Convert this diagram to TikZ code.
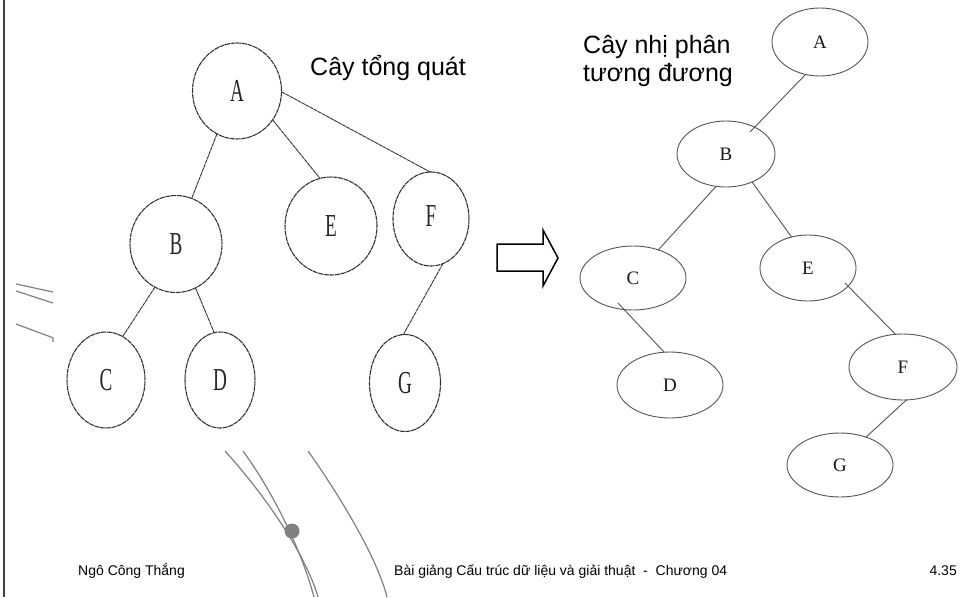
\documentclass[tikz,border=0pt]{standalone}
\usepackage{fontspec}
\setmainfont{Liberation Serif}
\newfontfamily\sansf{Liberation Sans}
\usetikzlibrary{shapes.geometric}
\definecolor{ltree}{HTML}{333333}
\definecolor{rtree}{HTML}{555555}
\definecolor{decog}{HTML}{808080}
\newcommand\condtxt[1]{\scalebox{0.6}[1]{#1}}
\begin{document}
\begin{tikzpicture}[x=1pt,y=-1pt,
  lnode/.style={ellipse, draw=ltree, line width=1.1pt, dash pattern=on 5pt off 0.7pt, inner sep=0pt, outer sep=0pt, font=\fontsize{32}{32}\selectfont, text=black!85},
  rnode/.style={ellipse, draw=rtree, line width=0.9pt, inner sep=0pt, outer sep=0pt, font=\fontsize{19}{19}\selectfont, text=black!90},
  ledge/.style={draw=ltree, line width=0.9pt, dash pattern=on 4pt off 0.6pt},
  redge/.style={draw=rtree, line width=0.9pt},
  titletxt/.style={font=\sansf\fontsize{25}{28}\selectfont, anchor=base west, inner sep=0pt},
  foottxt/.style={font=\sansf\fontsize{14}{14}\selectfont, inner sep=0pt},
  decoline/.style={draw=decog, line width=1.2pt}]
\useasboundingbox (0,0) rectangle (963,597);
\fill[white] (0,0) rectangle (963,597);
% left border
\draw[line width=2pt, black!75] (3.5,0) -- (3.5,597);

% ---------- left tree ----------
\node[lnode, minimum width=89, minimum height=96] (lA) at (237,91) {\condtxt{A}};
\node[lnode, minimum width=92, minimum height=97] (lB) at (176,244) {\condtxt{B}};
\node[lnode, minimum width=92, minimum height=98] (lE) at (331,226) {\condtxt{E}};
\node[lnode, minimum width=76, minimum height=94] (lF) at (431,219) {\raisebox{6pt}{\condtxt{F}}};
\node[lnode, minimum width=78, minimum height=96] (lC) at (106,380) {\condtxt{C}};
\node[lnode, minimum width=70, minimum height=96] (lD) at (220,380) {\condtxt{D}};
\node[lnode, minimum width=71, minimum height=97] (lG) at (405,383) {\condtxt{G}};

\draw[ledge] (lA.245) -- (lB.71);
\draw[ledge] (lA.321) -- (lE.103);
\draw[ledge] (lA.359) -- (lF.91);
\draw[ledge] (lB.244) -- (lC.69);
\draw[ledge] (lB.294) -- (lD.97);
\draw[ledge] (lF.285) -- (lG.92);

\node[titletxt] (t1) at (310,75) {Cây tổng quát};

% ---------- arrow ----------
\draw[line width=1.5pt, black] (497,244) -- (543,244) -- (543,230) -- (558,258) -- (543,286) -- (543,271) -- (497,271) -- cycle;

% ---------- right tree ----------
\node[rnode, minimum width=96, minimum height=68] (rA) at (820,42) {A};
\node[rnode, minimum width=98, minimum height=66] (rB) at (726,154) {B};
\node[rnode, minimum width=106, minimum height=64] (rC) at (633,278) {C};
\node[rnode, minimum width=96, minimum height=66] (rE) at (808,268) {E};
\node[rnode, minimum width=106, minimum height=66] (rD) at (670,385) {D};
\node[rnode, minimum width=108, minimum height=66] (rF) at (903,367) {F};
\node[rnode, minimum width=106, minimum height=64] (rG) at (840,465) {G};

\draw[redge] (rA.246) -- ([shift={(24,-22)}]rB.center);
\draw[redge] (rB.253) -- (rC.48);
\draw[redge] (rB.313) -- (rE.118);
\draw[redge] ([shift={(-15,25)}]rC.center) -- (rD.100);
\draw[redge] ([shift={(37,15)}]rE.center) -- (rF.103);
\draw[redge] (rF.276) -- (rG.47);

\node[titletxt] (t2) at (583,53) {Cây nhị phân};
\node[titletxt] (t3) at (583,81) {tương đương};

% ---------- decorations ----------
\draw[decoline] (16,284) -- (53,292);
\draw[decoline] (16,291) -- (53,303);
\draw[decoline] (16,324) -- (51,337) -- (53,338) -- (53,342);

\draw[decoline] (225,451) .. controls (265,495) and (306,555) .. (318,597);
\draw[decoline] (243,451) .. controls (270,488) and (300,545) .. (314,597);
\draw[decoline] (308,451) .. controls (338,493) and (377,557) .. (387,597);
\fill[decog] (292,531) circle (7.5);

% ---------- footer ----------
\node[foottxt, anchor=base west] (f1) at (78,575) {Ngô Công Thắng};
\node[foottxt, anchor=base west] (f2) at (394,575) {Bài giảng Cấu trúc dữ liệu và giải thuật \ -\ \ Chương 04};
\node[foottxt, anchor=base east] (f3) at (957,575) {4.35};
\end{tikzpicture}
\end{document}
